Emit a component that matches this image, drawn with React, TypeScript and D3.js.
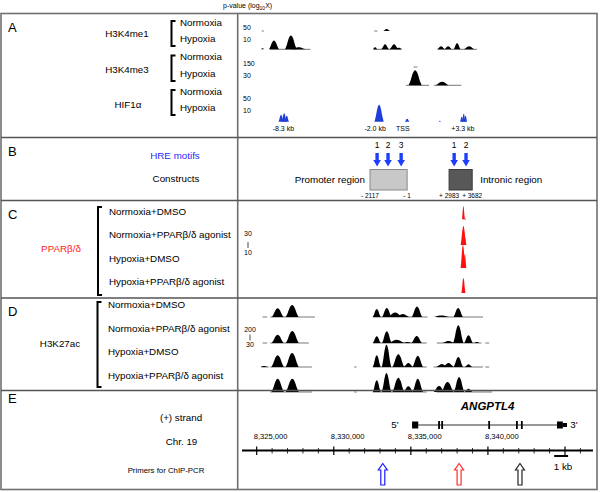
import React from "react";
import * as d3 from "d3";

type Peak = [number, number, number]; // [kb from TSS, signal height, half width kb]
type Seg = [number, number];

// ---------- data ----------
const TSS = 8335080;
const genomeTicks = [8325000, 8330000, 8335000, 8340000];

const h3k4me1Normoxia: Peak[] = [[-1.65, 2, 0.22]];
const h3k4me1NormoxiaSeg: Seg[] = [[-9.75, -9.62], [-2.45, -2.25]];
const h3k4me1Hypoxia: Peak[] = [
  [-9.7, 1, 0.12], [-8.96, 8.7, 0.33], [-7.86, 13.7, 0.38], [-7.35, 2, 0.45],
  [-2.4, 2, 0.15], [-1.75, 5, 0.24], [-1.17, 5, 0.28], [-0.85, 1.5, 0.22],
  [1.88, 3, 0.25], [2.34, 3, 0.25], [2.92, 6, 0.22], [3.7, 3, 0.35],
];
const h3k4me1HypoxiaSeg: Seg[] = [[-9.2, -6.6], [-2.5, -0.7], [1.65, 4.2]];
const h3k4me3NormoxiaSeg: Seg[] = [[0.1, 0.35]];
const h3k4me3Hypoxia: Peak[] = [[0.2, 15, 0.42], [1.95, 3.5, 0.42]];
const h3k4me3HypoxiaSeg: Seg[] = [[-0.4, 1.1], [1.43, 3.2]];
const hif1aHypoxia: Peak[] = [
  [-8.5, 7, 0.16], [-8.3, 8.4, 0.16], [-8.13, 6, 0.14], [-2.14, 17, 0.3],
  [-0.32, 3, 0.14], [1.8, 1, 0.08], [3.22, 5, 0.11], [3.35, 8, 0.11], [3.47, 6, 0.1],
];
const hifLabels: { kb: number; text: string }[] = [
  { kb: -8.35, text: "-8.3 kb" }, { kb: -2.4, text: "-2.0 kb" },
  { kb: -0.6, text: "TSS" }, { kb: 3.3, text: "+3.3 kb" },
];

const pparRows = ["Normoxia+DMSO", "Normoxia+PPARβ/δ agonist", "Hypoxia+DMSO", "Hypoxia+PPARβ/δ agonist"];
const pparPeaks: Peak[][] = [
  [[3.33, 13, 0.09]],
  [[3.33, 19, 0.18], [3.42, 8, 0.1]],
  [[3.3, 23, 0.15], [3.42, 14, 0.1]],
  [[3.33, 15, 0.13]],
];
const pparSeg: Seg[][] = [[[3.28, 3.5]], [], [], []];

const k27Peaks: Peak[][] = [
  [[-8.72, 8.7, 0.38], [-7.78, 12, 0.42], [-2.29, 8, 0.25], [-1.64, 9, 0.3], [-1.1, 4.5, 0.45],
   [-0.6, 3, 0.4], [0.32, 10.5, 0.33], [1.9, 1.5, 0.5], [2.99, 9, 0.3]],
  [[-8.72, 8.3, 0.38], [-7.77, 12, 0.42], [-2.29, 6.7, 0.25], [-1.64, 11.7, 0.3], [-1.0, 3.3, 0.5],
   [-0.3, 1, 0.3], [0.3, 7, 0.33], [2.36, 2, 0.4], [3.0, 17.7, 0.33], [3.66, 7.7, 0.28], [4.2, 1, 0.2]],
  [[-9.6, 1, 0.25], [-8.72, 11.7, 0.4], [-7.78, 14, 0.42], [-2.29, 11.7, 0.25], [-1.66, 22.3, 0.3],
   [-0.89, 12.7, 0.38], [-0.24, 4, 0.3], [0.37, 11.3, 0.33], [1.93, 3, 0.35], [2.36, 4, 0.35],
   [3.0, 10, 0.3], [3.66, 2.7, 0.25]],
  [[-8.72, 13.3, 0.4], [-7.77, 13.3, 0.42], [-2.29, 11.7, 0.25], [-1.66, 19, 0.3], [-0.89, 14.3, 0.38],
   [-0.24, 5.7, 0.3], [0.37, 13.3, 0.33], [1.75, 6, 0.35], [2.3, 10, 0.4], [3.05, 15, 0.33], [3.66, 3.3, 0.25]],
];
const k27Seg: Seg[][] = [
  [[-9.7, -9.4], [-9.2, -6.3], [-2.55, 1.0], [1.6, 4.6]],
  [[-9.7, -9.4], [-9.2, -6.7], [-2.55, 0.95], [1.6, 4.5], [4.75, 5.0]],
  [[-9.8, -9.3], [-9.2, -6.5], [-3.75, -3.6], [-2.55, 0.95], [1.4, 4.6], [4.75, 5.0]],
  [[-9.2, -6.5], [-3.75, -3.6], [-2.55, 0.95], [1.6, 5.2]],
];

const hreMotifs: { kb: number; label: string }[] = [
  { kb: -2.27, label: "1" }, { kb: -1.56, label: "2" }, { kb: -0.71, label: "3" },
  { kb: 2.73, label: "1" }, { kb: 3.5, label: "2" },
];
const constructs = [
  { from: -2.73, to: -0.32, fill: "#c8c8c8", stroke: "#8a8a8a", l: "- 2117", r: "- 1" },
  { from: 2.4, to: 3.9, fill: "#585858", stroke: "#3a3a3a", l: "+ 2983", r: "+ 3682" },
];

const exonsThin: number[] = [1.75, 1.95, 5.0, 6.8, 7.12];
const exonsBox: Seg[] = [[0.0, 0.4], [9.4, 9.78]];
const utr3: Seg = [9.78, 10.05];
const primers: { kb: number; color: string }[] = [
  { kb: -1.9, color: "#1a1aff" }, { kb: 3.05, color: "#ff2a2a" }, { kb: 7.0, color: "#222" },
];

// ---------- scales ----------
const xGen = d3.scaleLinear().domain([8325000, 8345000]).range([256.7, 565]);
const xKb = (k: number) => xGen(TSS + k * 1000);
const yS = d3.scaleLinear().domain([0, 25]).range([0, 25]);

const FONT = "'Liberation Sans', Arial, sans-serif";

function peakPath(p: Peak, base: number) {
  const [c, h, w] = p;
  const pts: [number, number][] = [
    [c - w, 0], [c - 0.72 * w, 0.3 * h], [c - 0.38 * w, 0.78 * h], [c, h],
    [c + 0.38 * w, 0.78 * h], [c + 0.72 * w, 0.3 * h], [c + w, 0],
  ];
  const a = d3.area<[number, number]>()
    .x((d) => xKb(d[0]))
    .y0(base)
    .y1((d) => base - yS(d[1]))
    .curve(d3.curveMonotoneX);
  return a(pts) || "";
}

function Track({ peaks, segs, base, color }: { peaks: Peak[]; segs: Seg[]; base: number; color: string }) {
  return (
    <g>
      {segs.map((s, i) => (
        <line key={"s" + i} x1={xKb(s[0])} x2={xKb(s[1])} y1={base} y2={base} stroke="#555" strokeWidth={0.8} />
      ))}
      {peaks.map((p, i) => (
        <path key={"p" + i} d={peakPath(p, base)} fill={color} />
      ))}
    </g>
  );
}

function Bracket({ x, y1, y2 }: { x: number; y1: number; y2: number }) {
  return <path d={`M${x + 4},${y1} L${x},${y1} L${x},${y2} L${x + 4},${y2}`} fill="none" stroke="#000" strokeWidth={2} />;
}

export default function App() {
  const lbl = { fontFamily: FONT, fontSize: 9.8, fill: "#000" } as const;
  const small = { fontFamily: FONT, fontSize: 7, fill: "#000" } as const;
  const letter = { fontFamily: FONT, fontSize: 13, fill: "#000" } as const;

  const aBase = [31, 49.3, 67, 85.3, 103, 121.7];
  const cBase = [219, 245, 268, 293];
  const cLab = [215, 238, 262, 285];
  const dBase = [317, 343, 367, 392];
  const dLab = [308, 332, 355, 379];

  const axisY = 450.5;
  const minorTicks = d3.range(-1, 23).map((i) => 8325000 + i * 1000).filter((g) => xGen(g) > 243 && xGen(g) < 592);

  return (
    <svg width={600} height={492} style={{ position: "absolute", left: 0, top: 0, background: "#fff" }}>
      <rect x={0} y={0} width={600} height={492} fill="#fff" />
      {/* header */}
      <text x={223} y={7.5} style={small}>
        p-value (log<tspan fontSize={5} dy={2}>10</tspan><tspan dy={-2}>X)</tspan>
      </text>

      {/* ---------- Panel A ---------- */}
      <text x={8} y={32} style={letter}>A</text>
      <text x={127} y={37} textAnchor="middle" style={lbl}>H3K4me1</text>
      <text x={127} y={72.5} textAnchor="middle" style={lbl}>H3K4me3</text>
      <text x={128} y={108} textAnchor="middle" style={lbl}>HIF1α</text>
      {[[21, 46], [55.5, 81], [90, 115]].map(([a, b], i) => (
        <g key={i}>
          <Bracket x={171.5} y1={a} y2={b} />
          <text x={180} y={a + 4.5} style={lbl}>Normoxia</text>
          <text x={180} y={b - 4} style={lbl}>Hypoxia</text>
        </g>
      ))}
      {[["50", "10", 30, 42], ["150", "30", 65.5, 78], ["50", "10", 101, 112.5]].map(([t, b, y1, y2], i) => (
        <g key={i}>
          <text x={243} y={y1 as number} style={small}>{t}</text>
          <text x={243} y={y2 as number} style={small}>{b}</text>
        </g>
      ))}
      <Track peaks={h3k4me1Normoxia} segs={h3k4me1NormoxiaSeg} base={aBase[0]} color="#000" />
      <Track peaks={h3k4me1Hypoxia} segs={h3k4me1HypoxiaSeg} base={aBase[1]} color="#000" />
      <Track peaks={[]} segs={h3k4me3NormoxiaSeg} base={aBase[2]} color="#000" />
      <Track peaks={h3k4me3Hypoxia} segs={h3k4me3HypoxiaSeg} base={aBase[3]} color="#000" />
      <Track peaks={hif1aHypoxia} segs={[]} base={aBase[5]} color="#1f3fd8" />
      {hifLabels.map((l, i) => (
        <text key={i} x={xKb(l.kb)} y={131} textAnchor="middle" style={small}>{l.text}</text>
      ))}

      {/* ---------- Panel B ---------- */}
      <text x={8} y={156} style={letter}>B</text>
      <text x={175} y={159} textAnchor="middle" style={{ ...lbl, fill: "#2a2aff" }}>HRE motifs</text>
      <text x={176} y={182} textAnchor="middle" style={lbl}>Constructs</text>
      {hreMotifs.map((m, i) => {
        const x = xKb(m.kb);
        return (
          <g key={i}>
            <text x={x} y={148} textAnchor="middle" style={{ ...small, fontSize: 8.5 }}>{m.label}</text>
            <path d={`M${x - 1.7},153 L${x + 1.7},153 L${x + 1.7},160 L${x + 3.8},160 L${x},166.5 L${x - 3.8},160 L${x - 1.7},160 Z`} fill="#1f3fff" />
          </g>
        );
      })}
      {constructs.map((c, i) => (
        <g key={i}>
          <rect x={xKb(c.from)} y={169.5} width={xKb(c.to) - xKb(c.from)} height={20.5} fill={c.fill} stroke={c.stroke} strokeWidth={1} />
          <text x={xKb(c.from)} y={198} textAnchor="middle" style={{ ...small, fontSize: 6.5 }}>{c.l}</text>
          <text x={xKb(c.to)} y={198} textAnchor="middle" style={{ ...small, fontSize: 6.5 }}>{c.r}</text>
        </g>
      ))}
      <text x={xKb(-2.73) - 5} y={182.5} textAnchor="end" style={lbl}>Promoter region</text>
      <text x={xKb(3.9) + 8} y={182.5} style={lbl}>Intronic region</text>

      {/* ---------- Panel C ---------- */}
      <text x={8} y={218.5} style={letter}>C</text>
      <text x={61} y={252} textAnchor="middle" style={{ ...lbl, fill: "#ff2020" }}>PPARβ/δ</text>
      <Bracket x={98} y1={207} y2={295} />
      {pparRows.map((r, i) => (
        <text key={i} x={109} y={cLab[i]} style={lbl}>{r}</text>
      ))}
      <text x={248} y={236} textAnchor="middle" style={small}>30</text>
      <line x1={248} x2={248} y1={242} y2={248} stroke="#000" strokeWidth={0.7} />
      <text x={248} y={255} textAnchor="middle" style={small}>10</text>
      {pparPeaks.map((p, i) => (
        <Track key={i} peaks={p} segs={pparSeg[i]} base={cBase[i]} color="#ff1010" />
      ))}

      {/* ---------- Panel D ---------- */}
      <text x={8} y={315.5} style={letter}>D</text>
      <text x={60} y={347} textAnchor="middle" style={lbl}>H3K27ac</text>
      <Bracket x={97.5} y1={302} y2={387} />
      {pparRows.map((r, i) => (
        <text key={i} x={108} y={dLab[i]} style={lbl}>{r}</text>
      ))}
      <text x={250} y={332} textAnchor="middle" style={small}>200</text>
      <line x1={250} x2={250} y1={334.5} y2={340.5} stroke="#000" strokeWidth={0.7} />
      <text x={250} y={346.5} textAnchor="middle" style={small}>30</text>
      {k27Peaks.map((p, i) => (
        <Track key={i} peaks={p} segs={k27Seg[i]} base={dBase[i]} color="#000" />
      ))}

      {/* ---------- Panel E ---------- */}
      <text x={8} y={403} style={letter}>E</text>
      <text x={181} y={421} textAnchor="middle" style={lbl}>(+) strand</text>
      <text x={181.5} y={445} textAnchor="middle" style={lbl}>Chr. 19</text>
      <text x={166} y={473} textAnchor="middle" style={{ ...lbl, fontSize: 7.8 }}>Primers for ChIP-PCR</text>
      <text x={xKb(4.9)} y={410} textAnchor="middle" style={{ fontFamily: FONT, fontSize: 11.5, fontWeight: "bold", fontStyle: "italic" }}>ANGPTL4</text>
      <text x={395} y={428} textAnchor="middle" style={lbl}>5'</text>
      <text x={574} y={428} textAnchor="middle" style={lbl}>3'</text>
      <line x1={xKb(0)} x2={xKb(utr3[1])} y1={425} y2={425} stroke="#333" strokeWidth={1} />
      {exonsBox.map((e, i) => (
        <rect key={i} x={xKb(e[0])} y={421.5} width={xKb(e[1]) - xKb(e[0])} height={7} fill="#000" />
      ))}
      <rect x={xKb(utr3[0])} y={423} width={xKb(utr3[1]) - xKb(utr3[0])} height={4} fill="#000" />
      {exonsThin.map((e, i) => (
        <rect key={i} x={xKb(e) - 0.9} y={421} width={1.8} height={8} fill="#000" />
      ))}
      {genomeTicks.map((g) => (
        <text key={g} x={xGen(g) - 3} y={439} style={{ ...small, fontSize: 7.6 }}>{d3.format(",")(g)}</text>
      ))}
      <line x1={242} x2={593} y1={axisY} y2={axisY} stroke="#000" strokeWidth={2} />
      {minorTicks.map((g) => {
        const major = (g % 5000) === 0;
        return (
          <line key={g} x1={xGen(g)} x2={xGen(g)} y1={axisY - (major ? 4 : 2.5)} y2={axisY + (major ? 4.5 : 3)} stroke="#000" strokeWidth={major ? 1.2 : 0.8} />
        );
      })}
      <line x1={xGen(8344300)} x2={xGen(8345200)} y1={456} y2={456} stroke="#000" strokeWidth={2} />
      <text x={563} y={470} textAnchor="middle" style={lbl}>1 kb</text>
      {primers.map((p, i) => {
        const x = xKb(p.kb);
        return (
          <path key={i} d={`M${x},463.5 L${x + 4.5},470 L${x + 2},470 L${x + 2},485 L${x - 2},485 L${x - 2},470 L${x - 4.5},470 Z`} fill="#fff" stroke={p.color} strokeWidth={1.2} />
        );
      })}

      {/* ---------- frame ---------- */}
      <rect x={1} y={13.5} width={596} height={476} fill="none" stroke="#707070" strokeWidth={1.6} />
      <line x1={237.7} x2={237.7} y1={13.5} y2={489.5} stroke="#707070" strokeWidth={1.6} />
      {[137.5, 200.5, 298, 390.5].map((y) => (
        <line key={y} x1={1} x2={597} y1={y} y2={y} stroke="#555" strokeWidth={1.3} />
      ))}
    </svg>
  );
}
